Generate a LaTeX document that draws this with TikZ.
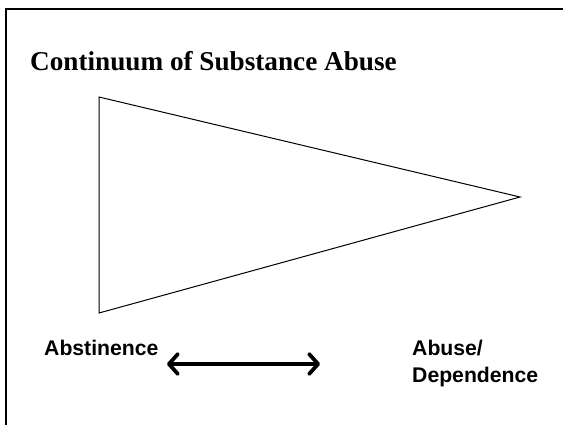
\documentclass[tikz,border=0pt]{standalone}
\usepackage{fontspec}
\setmainfont{Liberation Serif}
\setsansfont{Liberation Sans}
\usetikzlibrary{arrows.meta}
\begin{document}
\begin{tikzpicture}[x=1pt,y=-1pt,
  lbl/.style={font=\sffamily\bfseries\fontsize{21.2}{27}\selectfont, anchor=base west, inner sep=0pt, align=left},
  tri/.style={draw=black, line width=1pt, line join=miter},
  frame/.style={draw=black, line width=2.2pt},
  dbl/.style={line width=3.8pt, {Straight Barb[length=9pt,width=20pt,line cap=round,line join=round]}-{Straight Barb[length=9pt,width=20pt,line cap=round,line join=round]}}]
\useasboundingbox (0,0) rectangle (563,424);
\draw[frame] (6,440) -- (6,9) -- (580,9);
\node[font=\bfseries\fontsize{27.2}{32}\selectfont, anchor=base west, inner sep=0pt] (title) at (30,70) {Continuum of Substance Abuse};
\coordinate (a) at (99,97);
\coordinate (b) at (520,197);
\coordinate (c) at (99,313);
\draw[tri] (a) -- (b) -- (c) -- cycle;
\node[lbl] (abst) at (44,355) {Abstinence};
\node[lbl] (abuse) at (412,382) {Abuse/\\Dependence};
\coordinate (l) at (167,364);
\coordinate (r) at (320,364);
\draw[dbl] (l) -- (r);
\end{tikzpicture}
\end{document}
